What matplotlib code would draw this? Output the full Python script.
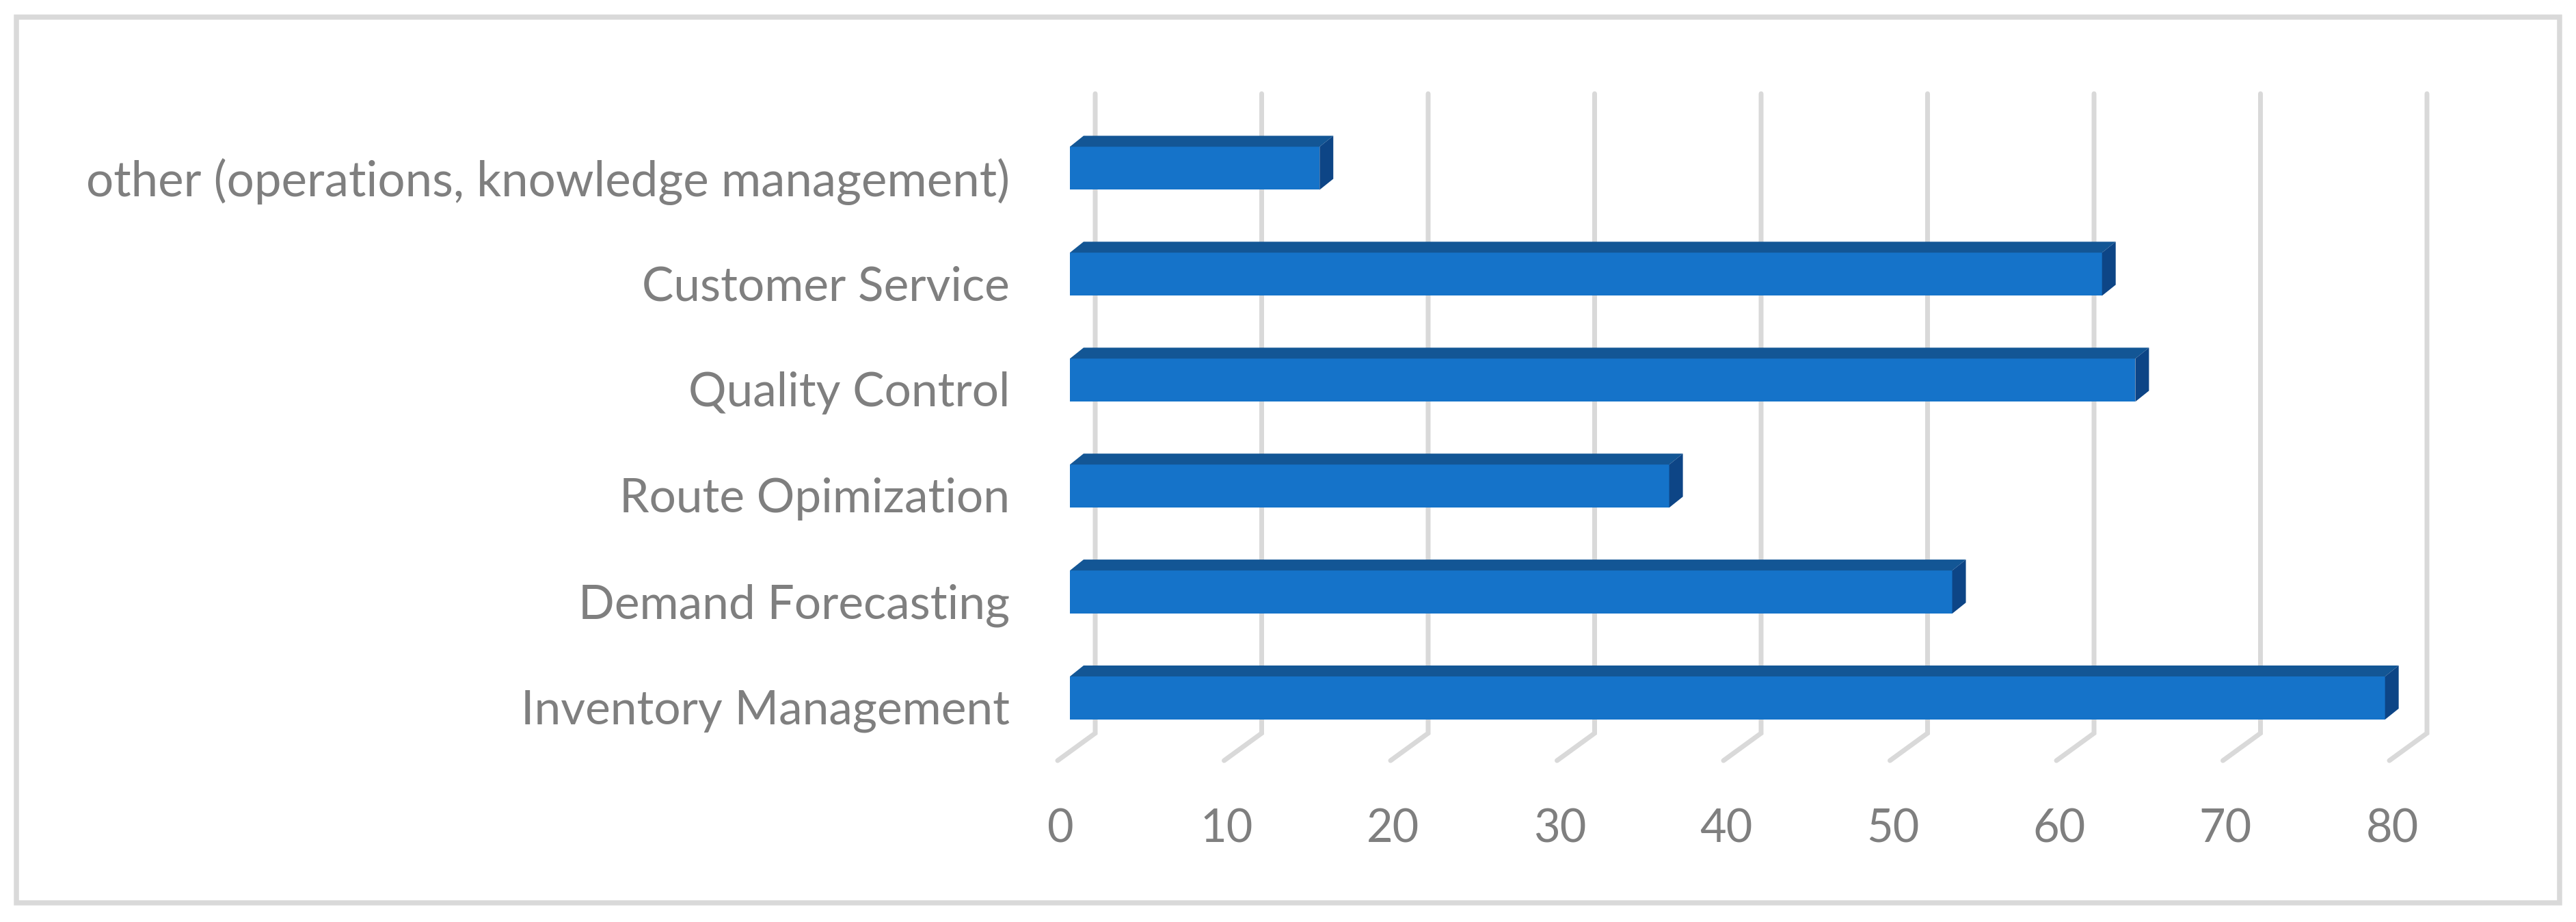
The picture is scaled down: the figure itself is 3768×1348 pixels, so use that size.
import matplotlib
matplotlib.use("Agg")
import matplotlib.pyplot as plt
from matplotlib.patches import Polygon, Rectangle
from matplotlib.transforms import ScaledTranslation

categories = ["Inventory Management", "Demand Forecasting", "Route Opimization",
              "Quality Control", "Customer Service",
              "other (operations, knowledge management)"]
values = [79, 53, 36, 64, 62, 15]
x_ticks = [0, 10, 20, 30, 40, 50, 60, 70, 80]

W, H = 3768, 1348
DPI = 100
PX = 72 / DPI  # one pixel in points

FRONT = "#1573c9"
TOP = "#135695"
SIDE = "#0d4586"
GRID = "#d9d9d9"
TEXT = "#7f7f7f"

plt.rcParams["font.family"] = ["Lato", "DejaVu Sans"]

fig = plt.figure(figsize=(W / DPI, H / DPI), dpi=DPI, facecolor="white")

# axes span: value 0 at the bar base, floor front edge at the bottom
ax_left, ax_right = 1565, 3513
ax_top, ax_bottom = 137, 1112
ax = fig.add_axes([ax_left / W, 1 - ax_bottom / H, (ax_right - ax_left) / W, (ax_bottom - ax_top) / H])
ax.set_xlim(0, 80)

unit_y = 154.9
y0_px = 1020.5
ax.set_ylim((y0_px - ax_bottom) / unit_y, (y0_px - ax_top) / unit_y)
for s in ax.spines.values():
    s.set_visible(False)

unit_x = (ax_right - ax_left) / 80
bar_h = 63 / unit_y
depth_x = 20 / unit_x
depth_y = 16 / unit_y
wall_dx = 37 / unit_x
floor_dx = -18 / unit_x
wall_y = (y0_px - 1072) / unit_y
floor_y = (y0_px - ax_bottom) / unit_y
top_y = (y0_px - ax_top) / unit_y

# 3d style gridlines: up the back wall, then diagonal over the floor
for t in x_ticks:
    ax.plot([t + wall_dx, t + wall_dx, t + floor_dx], [top_y, wall_y, floor_y],
            color=GRID, lw=7 * PX, solid_capstyle="round", solid_joinstyle="miter",
            clip_on=False, zorder=1)

pos = list(range(len(categories)))
ax.barh(pos, values, height=bar_h, color=FRONT, zorder=3)
for p, v in zip(pos, values):
    y_low, y_high = p - bar_h / 2, p + bar_h / 2
    ax.add_patch(Polygon([(0, y_high), (depth_x, y_high + depth_y), (v + depth_x, y_high + depth_y), (v, y_high)],
                         closed=True, facecolor=TOP, edgecolor="none", zorder=3, clip_on=False))
    ax.add_patch(Polygon([(v, y_low), (v + depth_x, y_low + depth_y), (v + depth_x, y_high + depth_y), (v, y_high)],
                         closed=True, facecolor=SIDE, edgecolor="none", zorder=3, clip_on=False))

ax.set_yticks(pos, categories)
ax.set_xticks(x_ticks, [str(t) for t in x_ticks])
ax.tick_params(axis="y", length=0, pad=88 * PX, labelsize=50, labelcolor=TEXT)
ax.tick_params(axis="x", length=0, pad=70 * PX, labelsize=48, labelcolor=TEXT)

for lab in ax.get_yticklabels():
    lab.set_transform(lab.get_transform() + ScaledTranslation(0, -13 / DPI, fig.dpi_scale_trans))
ax.get_yticklabels()[-1].set_fontsize(51)
for lab in ax.get_xticklabels():
    lab.set_transform(lab.get_transform() + ScaledTranslation(-14 / DPI, 0, fig.dpi_scale_trans))

# outer chart frame
fig.add_artist(Rectangle((23.5 / W, 1 - 1320 / H), (3743.5 - 23.5) / W, (1320 - 24.5) / H,
                         transform=fig.transFigure, facecolor="none", edgecolor=GRID, lw=7.5 * PX))

fig.savefig("out.png", dpi=DPI, facecolor="white")
